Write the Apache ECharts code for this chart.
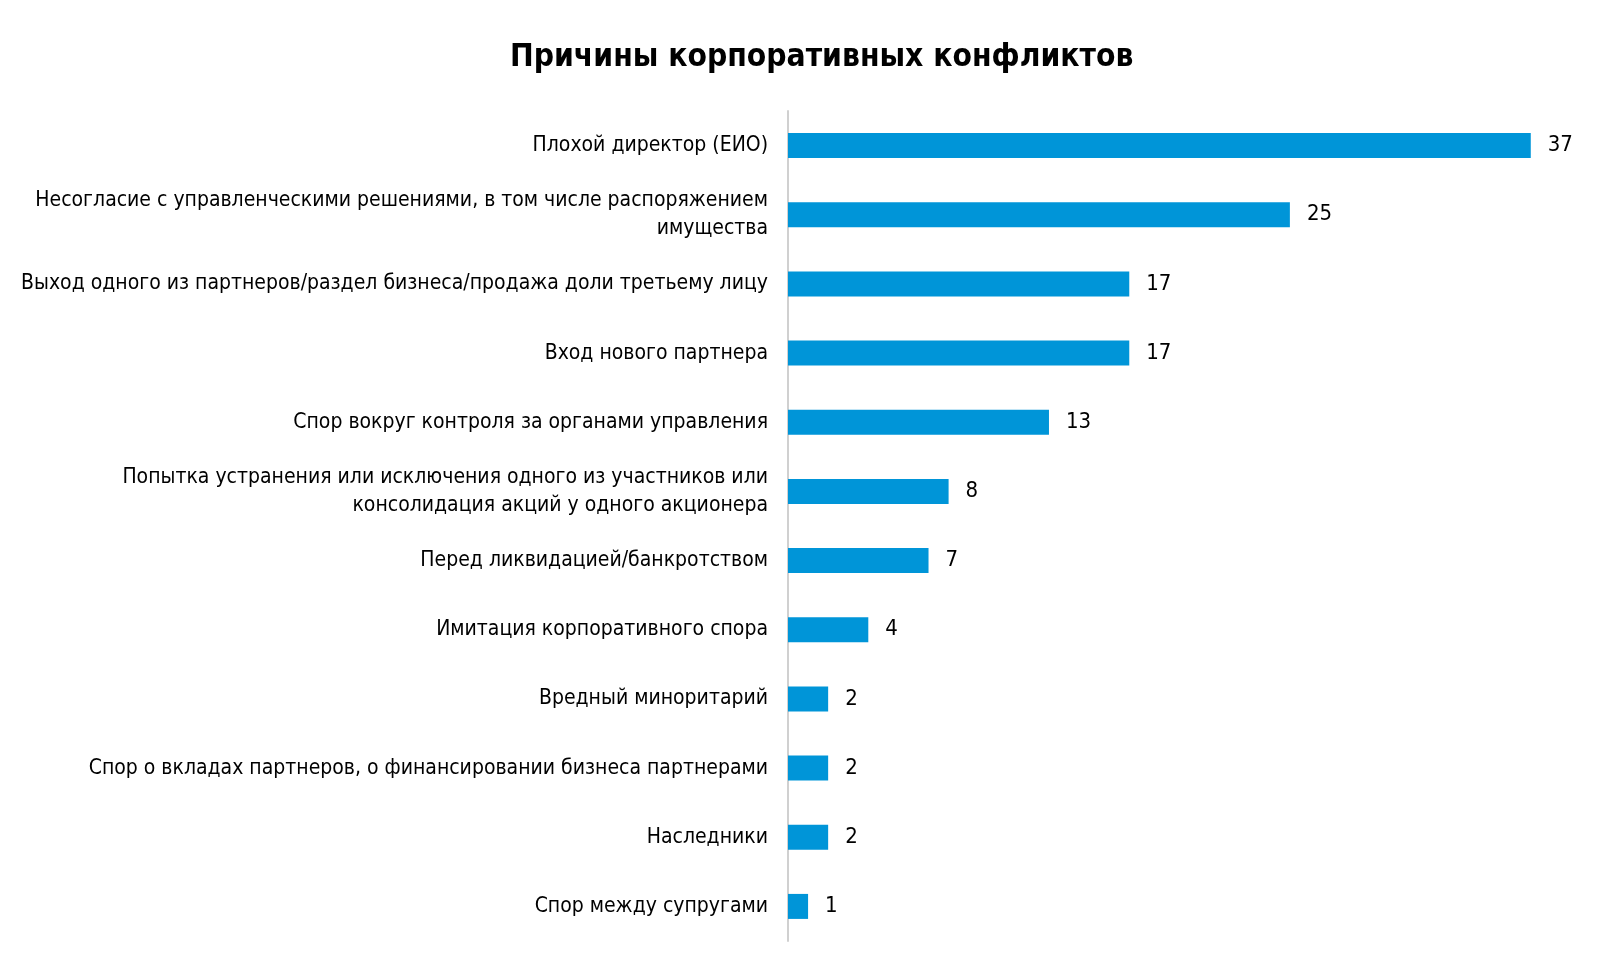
<!DOCTYPE html>
<html><head><meta charset="utf-8">
<script src="https://cdn.jsdelivr.net/npm/echarts@6/dist/echarts.min.js"></script>
<style>html,body{margin:0;padding:0;background:#fff}#c{width:1600px;height:974px}</style>
</head><body><div id="c"></div>
<script>
const categories = [
  'Плохой директор (ЕИО)',
  'Несогласие с управленческими решениями, в том числе распоряжением\nимущества',
  'Выход одного из партнеров/раздел бизнеса/продажа доли третьему лицу',
  'Вход нового партнера',
  'Спор вокруг контроля за органами управления',
  'Попытка устранения или исключения одного из участников или\nконсолидация акций у одного акционера',
  'Перед ликвидацией/банкротством',
  'Имитация корпоративного спора',
  'Вредный миноритарий',
  'Спор о вкладах партнеров, о финансировании бизнеса партнерами',
  'Наследники',
  'Спор между супругами'
];
const values = [37, 25, 17, 17, 13, 8, 7, 4, 2, 2, 2, 1];
const titleText = 'Причины корпоративных конфликтов';
const FONT = '"Liberation Sans Narrow", "DejaVu Sans Condensed", sans-serif';
const chart = echarts.init(document.getElementById('c'));
chart.setOption({
  animation: false,
  title: { text: titleText, left: 505, top: 37,
    textStyle: { fontFamily: FONT, fontSize: 31.5, fontWeight: 'bold', color: '#000' } },
  grid: { left: 788, top: 111, width: 803, height: 830, containLabel: false, outerBoundsMode: 'none' },
  xAxis: { type: 'value', min: 0, max: 40, show: false },
  yAxis: { type: 'category', data: categories, inverse: true,
    axisLine: { show: true, lineStyle: { color: '#d0d0d0', width: 2 } },
    axisTick: { show: false },
    axisLabel: { margin: 20, fontFamily: FONT, fontSize: 21, color: '#000', lineHeight: 28, align: 'right' } },
  series: [{
    type: 'bar', data: values, barWidth: 25,
    itemStyle: { color: '#0095d8' },
    label: { show: true, position: 'right', distance: 17, fontFamily: FONT, fontSize: 22, color: '#000' }
  }]
});
</script></body></html>
